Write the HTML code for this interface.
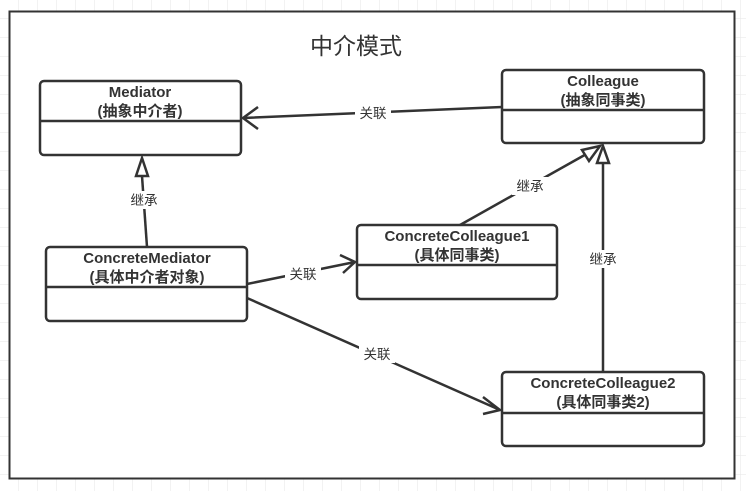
<!DOCTYPE html>
<html><head><meta charset="utf-8"><style>
html,body{margin:0;padding:0;background:#fff;width:746px;height:491px;overflow:hidden}
svg{display:block}
text{font-family:"Liberation Sans","Noto Sans CJK SC",sans-serif;fill:#333}
.b{font-weight:bold;font-size:15px}
.l{font-size:13.5px}
</style></head><body>
<svg width="746" height="491" viewBox="0 0 746 491">
<defs>
<pattern id="g" width="19" height="19" patternUnits="userSpaceOnUse">
<path d="M19 0V19M0 19H19" fill="none" stroke="#e6e6e6" stroke-width="1"/>
</pattern>
</defs>
<rect width="746" height="491" fill="url(#g)"/>
<rect x="9.5" y="11.5" width="725" height="467" fill="#fff" stroke="#333" stroke-width="2"/>
<text x="356" y="54" font-size="23" text-anchor="middle" style="fill:#333">中介模式</text>
<g fill="#fff" stroke="#333" stroke-width="2.5">
<rect x="40" y="81" width="201" height="74" rx="4"/>
<rect x="502" y="70" width="202" height="73" rx="4"/>
<rect x="46" y="247" width="201" height="74" rx="4"/>
<rect x="357" y="225" width="200" height="74" rx="4"/>
<rect x="502" y="372" width="202" height="74" rx="4"/>
</g>
<g stroke="#333" stroke-width="2.5" fill="none">
<path d="M40 121H241M502 110H704M46 287H247M357 265H557M502 413H704"/>
<path d="M502 107L243 118M258 107L243 118L258 129"/>
<path d="M147 247L142 176"/>
<path d="M460 225L590 152"/>
<path d="M603 372V163"/>
<path d="M247 284L355 262M340 255L355 262L343 273"/>
<path d="M247 298L500 410M483 397L500 410L483 414"/>
</g>
<g fill="#fff" stroke="#333" stroke-width="2.5">
<path d="M142 158L136 176H148Z"/>
<path d="M603 146L597 163H609Z"/>
<path d="M600 146L582 150L589 161Z"/>
</g>
<g fill="#fff">
<rect x="355" y="104" width="36" height="18"/>
<rect x="126" y="191" width="36" height="18"/>
<rect x="512" y="177" width="36" height="18"/>
<rect x="585" y="250" width="36" height="18"/>
<rect x="285" y="265" width="36" height="18"/>
<rect x="359" y="345" width="36" height="18"/>
</g>
<g text-anchor="middle">
<text x="373" y="118" class="l">关联</text>
<text x="144" y="205" class="l">继承</text>
<text x="530" y="191" class="l">继承</text>
<text x="603" y="264" class="l">继承</text>
<text x="303" y="279" class="l">关联</text>
<text x="377" y="359" class="l">关联</text>
</g>
<g text-anchor="middle">
<text x="140" y="97" class="b">Mediator</text>
<text x="140" y="116" class="b">(抽象中介者)</text>
<text x="603" y="86" class="b">Colleague</text>
<text x="603" y="105" class="b">(抽象同事类)</text>
<text x="147" y="263" class="b">ConcreteMediator</text>
<text x="147" y="282" class="b">(具体中介者对象)</text>
<text x="457" y="241" class="b">ConcreteColleague1</text>
<text x="457" y="260" class="b">(具体同事类)</text>
<text x="603" y="388" class="b">ConcreteColleague2</text>
<text x="603" y="407" class="b">(具体同事类2)</text>
</g>
</svg>
</body></html>
